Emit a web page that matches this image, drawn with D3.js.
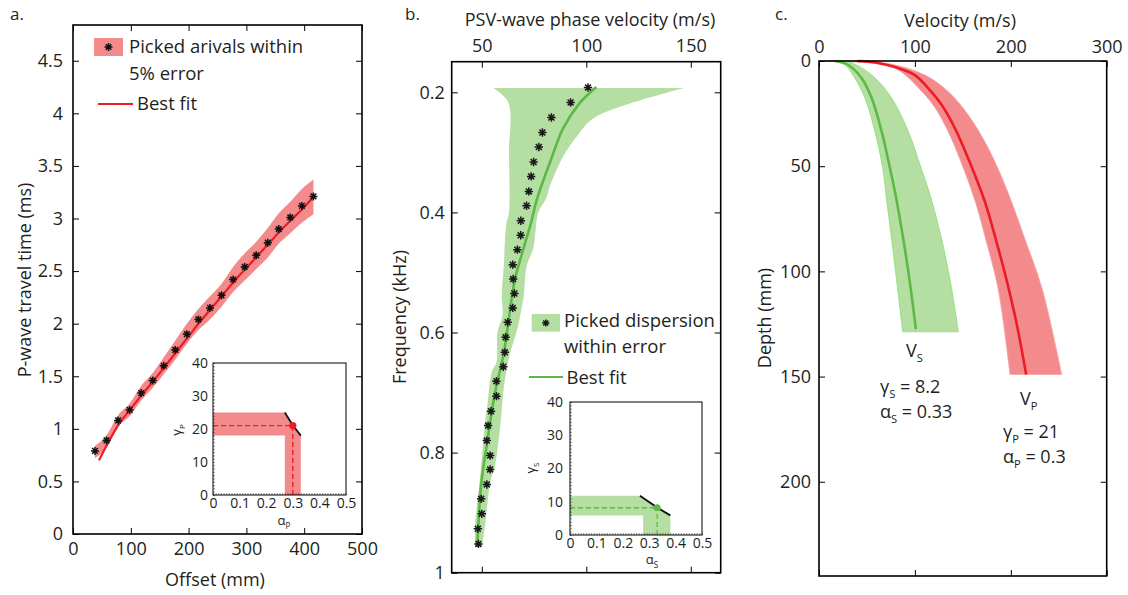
<!DOCTYPE html>
<html><head><meta charset="utf-8">
<script src="https://cdn.jsdelivr.net/npm/d3@7"></script>
<style>body{margin:0;background:#fff} svg{display:block} text{font-family:"Open Sans",sans-serif;fill:#231f20}</style>
</head><body><svg id="c" width="1128" height="595"></svg>
<script>
// ---------------- DATA ----------------
// Panel a: P-wave travel times
const offsetsA   = [38,58,78,98,118,138,157,177,197,217,237,257,277,297,317,337,356,376,396,416];
const picksA     = [0.79,0.89,1.08,1.18,1.34,1.46,1.60,1.75,1.90,2.04,2.15,2.27,2.42,2.54,2.65,2.77,2.90,3.01,3.12,3.21];
const bandUpperA = [0.84,0.94,1.13,1.24,1.41,1.53,1.68,1.84,2.00,2.14,2.26,2.38,2.54,2.67,2.78,2.91,3.05,3.16,3.28,3.37];
const bandLowerA = [0.72,0.82,1.02,1.12,1.27,1.39,1.52,1.66,1.81,1.94,2.04,2.16,2.30,2.41,2.52,2.63,2.76,2.86,2.96,3.04];
const fitOffsetA = [45,60,80,100,120,140,160,180,200,220,240,260,280,300,320,340,360,380,400,415];
const fitTimeA   = [0.70,0.86,1.05,1.19,1.33,1.46,1.60,1.74,1.88,2.02,2.15,2.28,2.41,2.53,2.65,2.77,2.89,3.00,3.11,3.20];
const ticksAx = [0,100,200,300,400,500];
const ticksAy = [0,0.5,1,1.5,2,2.5,3,3.5,4,4.5];

// Panel b: PSV-wave dispersion
const freqB = [0.192,0.217,0.242,0.267,0.291,0.316,0.340,0.365,0.389,0.414,0.438,0.462,0.487,0.511,0.535,0.559,
               0.583,0.608,0.633,0.657,0.681,0.706,0.731,0.755,0.780,0.805,0.828,0.853,0.877,0.902,0.927,0.952];
const velB  = [100.8,92.5,83.3,79.0,77.3,74.8,73.6,72.5,71.4,68.7,68.6,67.0,64.8,65.0,65.6,64.8,
               62.4,61.4,61.0,60.3,57.0,57.0,54.4,53.0,52.4,54.0,54.0,52.4,49.7,50.0,48.1,48.4];
const fitFreqB = [0.191,0.218,0.260,0.313,0.380,0.414,0.462,0.511,0.583,0.633,0.706,0.780,0.853,0.952,0.957];
const fitVelB  = [104.8,96.8,88.9,83.0,76.2,73.8,69.8,65.9,62.7,60.6,56.0,52.7,49.7,47.8,47.6];
const bandLeftFreqB  = [0.193,0.217,0.300,0.400,0.420,0.490,0.540,0.570,0.600,0.650,0.665,0.720,0.745,0.840,0.920,0.957];
const bandLeftVelB   = [55.5,62.7,63.0,63.0,61.7,60.5,59.5,60.0,57.5,57.0,54.8,52.7,51.7,49.2,46.8,46.8];
const bandRightFreqB = [0.193,0.242,0.271,0.307,0.357,0.375,0.400,0.430,0.460,0.490,0.540,0.560,0.590,0.635,0.660,0.690,0.760,0.820,0.850,0.920,0.957];
const bandRightVelB  = [146.8,104.0,96.0,88.9,82.5,81.0,77.0,75.7,74.6,71.4,70.1,69.0,67.3,63.5,62.0,60.6,58.7,56.4,54.0,51.6,50.0];
const ticksBx = [50,100,150];
const ticksBy = [0.2,0.4,0.6,0.8,1];

// Panel c: velocity profiles
const vpDepth = [0,0.8,3,6.7,13,20.9,32,47.9,66.9,85,103,124.7,149];
const vpVel   = [40,60,80,100,114,128,141.8,157,173,184.5,195,206,216];
const vpLowDepth = [0,0.8,2.5,6.7,13,20.9,32,47.9,66.9,85,108.8,149];
const vpLowVel   = [0,50,75,90,104,119,133,148,163,174,187,199.2];
const vpHighDepth = [0,1.5,6.7,14.6,25.7,41.5,61.3,85,108.8,149];
const vpHighVel   = [40,75.8,110.5,134.9,155.7,176.6,196,215,233,253.1];
const vsDepth = [0,1.9,8.2,17.7,33.6,51,64,85,105.7,127.5];
const vsVel   = [16.7,30.6,44.5,55,65.4,74,80,88,94.9,101];
const vsLowDepth = [0,1,8.2,17.7,33.6,51,64,93,128.7];
const vsLowVel   = [10,25,37.5,48,58.4,66.5,70,78,87.3];
const vsHighDepth = [0,0.3,6.7,17.7,33.6,51,64,85,105.7,128.7];
const vsHighVel   = [16.7,30.6,55,75.8,93.2,106.5,116,128,137.3,145.3];
const ticksCx = [0,100,200,300];
const ticksCy = [0,50,100,150,200];

// Insets (trade-off of gamma and alpha)
const insetTicksX = [0,0.1,0.2,0.3,0.4,0.5];
const insetTicksY = [0,10,20,30,40];
const insetAbandAlpha = [0,0.27,0.33,0.33,0.27,0.27,0];
const insetAbandGamma = [25,25,18,0,0,18,18];
const insetAtradeAlpha = [0.27,0.30,0.33];
const insetAtradeGamma = [25,21.2,18];
const insetAbest = [0.30,21];
const insetBbandAlpha = [0,0.27,0.38,0.38,0.277,0.277,0];
const insetBbandGamma = [11.8,11.8,5.9,0,0,5.9,5.9];
const insetBtradeAlpha = [0.265,0.33,0.38];
const insetBtradeGamma = [11.8,8.3,5.9];
const insetBbest = [0.33,8.2];

// ---------------- DRAWING ----------------
const svg = d3.select("#c");
const FONT = '"Open Sans", sans-serif';
const INK = "#231f20";
const RED_BAND = "#f38b8d", RED_LINE = "#ec1c24", GREEN_BAND = "#b4dea2", GREEN_LINE = "#5cb946";
const FS = 18, FSL = 18.5;

function asterisk(r){
  return {draw(ctx){ for(let k=0;k<4;k++){const a=k*Math.PI/4, c=Math.cos(a)*r, s=Math.sin(a)*r; ctx.moveTo(-c,-s); ctx.lineTo(c,s);} }};
}
function styleAxis(g, size){
  g.attr("font-family",FONT).attr("font-size",size).attr("color",INK);
  g.select(".domain").remove();
  g.selectAll(".tick line").attr("stroke","#000").attr("stroke-width",1);
}
function frame(g,x,y,sw){
  const [x0,x1]=x.range(), [y0,y1]=y.range();
  g.append("rect").attr("x",Math.min(x0,x1)).attr("y",Math.min(y0,y1))
   .attr("width",Math.abs(x1-x0)).attr("height",Math.abs(y1-y0))
   .attr("fill","none").attr("stroke","#000").attr("stroke-width",sw);
}
function fourAxes(g,x,y,o){
  const [xl,xr]=x.range(), yb=Math.max(...y.range()), yt=Math.min(...y.range());
  const fmt = d=>String(d);
  g.append("g").attr("transform",`translate(${xl},0)`)
    .call(d3.axisLeft(y).tickValues(o.ty).tickSize(-o.len).tickPadding(o.padL).tickFormat(o.labLeft?fmt:""))
    .call(a=>styleAxis(a,o.fs));
  g.append("g").attr("transform",`translate(${xr},0)`)
    .call(d3.axisRight(y).tickValues(o.ty).tickSize(-o.len).tickFormat(""))
    .call(a=>styleAxis(a,o.fs));
  g.append("g").attr("transform",`translate(0,${yb})`)
    .call(d3.axisBottom(x).tickValues(o.tx).tickSize(-o.len).tickPadding(o.padB||8).tickFormat(o.labBottom?fmt:""))
    .call(a=>styleAxis(a,o.fs));
  g.append("g").attr("transform",`translate(0,${yt})`)
    .call(d3.axisTop(x).tickValues(o.tx).tickSize(-o.len).tickPadding(o.padT||8).tickFormat(o.labTop?fmt:""))
    .call(a=>styleAxis(a,o.fs));
  frame(g,x,y,1.6);
}
function subText(g,x,y,main,sub,fs,rest,anchor){
  const t=g.append("text").attr("x",x).attr("y",y).attr("font-size",fs).attr("text-anchor",anchor||"start");
  t.append("tspan").text(main);
  t.append("tspan").attr("font-size",fs*0.62).attr("dy",fs*0.28).text(sub);
  if(rest) t.append("tspan").attr("dy",-fs*0.28).text(rest);
  return t;
}
function edgePath(lineGen, a, b){
  const p1=lineGen(a), p2=lineGen(b.slice().reverse());
  return p1 + "L" + p2.slice(1) + "Z";
}

// ---- Panel a ----
const gA = svg.append("g");
const xA = d3.scaleLinear([0,500],[73,362]);
const yA = d3.scaleLinear([0,4.84],[534,25]);
gA.append("path")
  .datum(offsetsA.map((o,i)=>[o,bandLowerA[i],bandUpperA[i]]))
  .attr("d",d3.area().x(d=>xA(d[0])).y0(d=>yA(d[1])).y1(d=>yA(d[2])).curve(d3.curveMonotoneX))
  .attr("fill",RED_BAND);
gA.append("path").datum(fitOffsetA.map((o,i)=>[o,fitTimeA[i]]))
  .attr("d",d3.line().x(d=>xA(d[0])).y(d=>yA(d[1])).curve(d3.curveCatmullRom))
  .attr("fill","none").attr("stroke",RED_LINE).attr("stroke-width",2.2);
gA.selectAll(".pa").data(offsetsA.map((o,i)=>[o,picksA[i]])).join("path")
  .attr("transform",d=>`translate(${xA(d[0])},${yA(d[1])})`)
  .attr("d",d3.symbol(asterisk(4))()).attr("stroke","#111").attr("stroke-width",1.5).attr("fill","none");
fourAxes(gA,xA,yA,{tx:ticksAx,ty:ticksAy,len:6,padL:10,padB:8,fs:FS,labLeft:true,labBottom:true});
gA.append("text").attr("x",10).attr("y",20).attr("font-size",17).text("a.");
gA.append("text").attr("transform","translate(31,280) rotate(-90)").attr("text-anchor","middle").attr("font-size",FS).text("P-wave travel time (ms)");
gA.append("text").attr("x",215).attr("y",586).attr("text-anchor","middle").attr("font-size",FS).text("Offset (mm)");
// legend a
gA.append("rect").attr("x",94).attr("y",38).attr("width",29).attr("height",18).attr("fill",RED_BAND);
gA.append("path").attr("transform","translate(108.5,47)").attr("d",d3.symbol(asterisk(4))()).attr("stroke","#111").attr("stroke-width",1.5);
gA.append("text").attr("x",129).attr("y",53).attr("font-size",FSL).text("Picked arivals within");
gA.append("text").attr("x",129).attr("y",80).attr("font-size",FSL).text("5% error");
gA.append("line").attr("x1",98).attr("x2",133).attr("y1",104).attr("y2",104).attr("stroke",RED_LINE).attr("stroke-width",2.2);
gA.append("text").attr("x",137).attr("y",110).attr("font-size",FSL).text("Best fit");

// ---- insets ----
function inset(xr,yr,bandA,bandG,trA,trG,best,fill,col,sub,labX,labY,padL){
  const g=svg.append("g");
  const x=d3.scaleLinear([0,0.5],xr), y=d3.scaleLinear([0,40],yr);
  g.append("rect").attr("x",xr[0]).attr("y",yr[1]).attr("width",xr[1]-xr[0]).attr("height",yr[0]-yr[1]).attr("fill","#fff");
  g.append("path").attr("d",d3.line()(bandA.map((a,i)=>[x(a),y(bandG[i])]))+"Z").attr("fill",fill);
  g.append("path").attr("d",d3.line().curve(d3.curveCatmullRom)(trA.map((a,i)=>[x(a),y(trG[i])])))
    .attr("fill","none").attr("stroke","#111").attr("stroke-width",1.8);
  g.append("line").attr("x1",x(0)).attr("x2",x(best[0])).attr("y1",y(best[1])).attr("y2",y(best[1]))
    .attr("stroke",col).attr("stroke-width",1.3).attr("stroke-dasharray","5,3");
  g.append("line").attr("x1",x(best[0])).attr("x2",x(best[0])).attr("y1",y(0)).attr("y2",y(best[1]))
    .attr("stroke",col).attr("stroke-width",1.3).attr("stroke-dasharray","5,3");
  g.append("circle").attr("cx",x(best[0])).attr("cy",y(best[1])).attr("r",3.6).attr("fill",col);
  // minor ticks
  g.append("g").attr("transform",`translate(0,${yr[0]})`)
    .call(d3.axisBottom(x).ticks(50).tickSize(-2).tickFormat(""))
    .call(a=>{a.select(".domain").remove(); a.selectAll("line").attr("stroke","#444").attr("stroke-width",0.6);});
  g.append("g").attr("transform",`translate(${xr[0]},0)`)
    .call(d3.axisLeft(y).ticks(40).tickSize(-2).tickFormat(""))
    .call(a=>{a.select(".domain").remove(); a.selectAll("line").attr("stroke","#444").attr("stroke-width",0.6);});
  g.append("g").attr("transform",`translate(0,${yr[0]})`)
    .call(d3.axisBottom(x).tickValues(insetTicksX).tickSize(0).tickPadding(3).tickFormat(d=>String(d)))
    .call(a=>styleAxis(a,14));
  g.append("g").attr("transform",`translate(${xr[0]},0)`)
    .call(d3.axisLeft(y).tickValues(insetTicksY).tickSize(0).tickPadding(padL).tickFormat(d=>String(d)))
    .call(a=>styleAxis(a,14));
  frame(g,x,y,1);
  subText(g,labX[0],labX[1],"α",sub,13,null,"middle");
  const t=g.append("text").attr("transform",`translate(${labY[0]},${labY[1]}) rotate(-90)`).attr("text-anchor","middle").attr("font-size",13);
  t.append("tspan").text("γ"); t.append("tspan").attr("font-size",8).attr("dy",3.5).text(sub);
}
inset([213,346],[495,363],insetAbandAlpha,insetAbandGamma,insetAtradeAlpha,insetAtradeGamma,insetAbest,RED_BAND,RED_LINE,"P",[284,525],[181,430],5);
// ---- Panel b ----
const gB = svg.append("g");
const xB = d3.scaleLinear([35.6,164.3],[451.7,720.7]);
const yB = d3.scaleLinear([0.149,1],[61.7,572.7]);
const lnB = d3.line().x(d=>xB(d[0])).y(d=>yB(d[1])).curve(d3.curveCatmullRom);
gB.append("path").attr("d",edgePath(lnB,
    bandLeftVelB.map((v,i)=>[v,bandLeftFreqB[i]]),
    bandRightVelB.map((v,i)=>[v,bandRightFreqB[i]])))
  .attr("fill",GREEN_BAND);
gB.append("path").datum(fitVelB.map((v,i)=>[v,fitFreqB[i]])).attr("d",lnB)
  .attr("fill","none").attr("stroke",GREEN_LINE).attr("stroke-width",2.6);
gB.selectAll(".pb").data(velB.map((v,i)=>[v,freqB[i]])).join("path")
  .attr("transform",d=>`translate(${xB(d[0])},${yB(d[1])})`)
  .attr("d",d3.symbol(asterisk(4.2))()).attr("stroke","#1a1a1a").attr("stroke-width",1.5).attr("fill","none");
fourAxes(gB,xB,yB,{tx:ticksBx,ty:ticksBy,len:6,padL:7,padT:10,fs:FS,labLeft:true,labTop:true});
gB.append("text").attr("x",405).attr("y",20).attr("font-size",17).text("b.");
gB.append("text").attr("x",590).attr("y",26).attr("text-anchor","middle").attr("font-size",FS).text("PSV-wave phase velocity (m/s)");
gB.append("text").attr("transform","translate(406,317) rotate(-90)").attr("text-anchor","middle").attr("font-size",FS).text("Frequency (kHz)");
// legend b
gB.append("rect").attr("x",531.7).attr("y",314).attr("width",28.3).attr("height",17.7).attr("fill",GREEN_BAND);
gB.append("path").attr("transform","translate(545.8,323)").attr("d",d3.symbol(asterisk(3.6))()).attr("stroke","#1a1a1a").attr("stroke-width",1.5);
gB.append("text").attr("x",564).attr("y",327).attr("font-size",FSL).text("Picked dispersion");
gB.append("text").attr("x",564).attr("y",353).attr("font-size",FSL).text("within error");
gB.append("line").attr("x1",529).attr("x2",563).attr("y1",377).attr("y2",377).attr("stroke",GREEN_LINE).attr("stroke-width",2.2);
gB.append("text").attr("x",566.5).attr("y",384).attr("font-size",FSL).text("Best fit");
inset([570,702],[535,402],insetBbandAlpha,insetBbandGamma,insetBtradeAlpha,insetBtradeGamma,insetBbest,GREEN_BAND,GREEN_LINE,"S",[652,564],[535,468],7);

// ---- Panel c ----
const gC = svg.append("g");
const xC = d3.scaleLinear([0,300],[819,1106.7]);
const yC = d3.scaleLinear([0,244.8],[61,576]);
const lnC = d3.line().x(d=>xC(d[0])).y(d=>yC(d[1])).curve(d3.curveCatmullRom);
gC.append("path").attr("d",edgePath(lnC,
    vpLowVel.map((v,i)=>[v,vpLowDepth[i]]), vpHighVel.map((v,i)=>[v,vpHighDepth[i]])))
  .attr("fill",RED_BAND).attr("stroke","#f6a3a4").attr("stroke-width",0.8);
gC.append("path").attr("d",edgePath(lnC,
    vsLowVel.map((v,i)=>[v,vsLowDepth[i]]), vsHighVel.map((v,i)=>[v,vsHighDepth[i]])))
  .attr("fill",GREEN_BAND).attr("stroke","#97e27f").attr("stroke-width",1);
gC.append("path").datum(vpVel.map((v,i)=>[v,vpDepth[i]])).attr("d",lnC)
  .attr("fill","none").attr("stroke",RED_LINE).attr("stroke-width",2.6);
gC.append("path").datum(vsVel.map((v,i)=>[v,vsDepth[i]])).attr("d",lnC)
  .attr("fill","none").attr("stroke",GREEN_LINE).attr("stroke-width",2.6);
fourAxes(gC,xC,yC,{tx:ticksCx,ty:ticksCy,len:6,padL:8,padT:8,fs:FS,labLeft:true,labTop:true});
gC.append("text").attr("x",775).attr("y",20).attr("font-size",17).text("c.");
gC.append("text").attr("x",960).attr("y",27).attr("text-anchor","middle").attr("font-size",FS).text("Velocity (m/s)");
gC.append("text").attr("transform","translate(771,318) rotate(-90)").attr("text-anchor","middle").attr("font-size",FS).text("Depth (mm)");
subText(gC,906,357,"V","S",FS);
subText(gC,880,393,"γ","S",FS," = 8.2");
subText(gC,880,418,"α","S",FS," = 0.33");
subText(gC,1020,405,"V","P",FS);
subText(gC,1003,438,"γ","P",FS," = 21");
subText(gC,1003,463,"α","P",FS," = 0.3");
</script></body></html>
